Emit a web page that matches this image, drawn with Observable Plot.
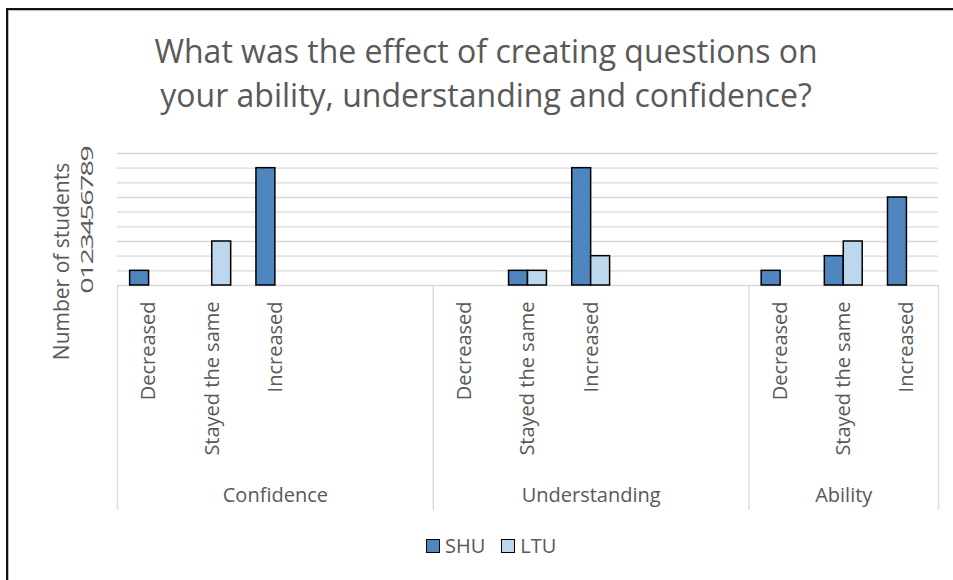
<!DOCTYPE html>
<html>
<head>
<meta charset="utf-8">
<script src="https://cdn.jsdelivr.net/npm/d3@7"></script>
<script src="https://cdn.jsdelivr.net/npm/@observablehq/plot@0.6"></script>
<style>
  body { margin: 0; background: #fff; }
  #chart { position: relative; width: 953px; height: 580px; overflow: hidden; font-family: "Open Sans", sans-serif; color: #595959; background: #fff; }
  #title { position: absolute; left: 0; width: 972px; top: 29px; text-align: center; font-size: 32px; line-height: 44px; }
  #plot { position: absolute; left: 0; top: 130px; }
  #legend { position: absolute; left: 426px; top: 532px; display: flex; align-items: center; font-size: 20px; line-height: 28px; }
  .item { display: flex; align-items: center; margin-right: 16px; }
  .sw { width: 12px; height: 12px; border: 1.5px solid #000; margin-right: 5px; }
  #border { position: absolute; left: 6px; top: 8px; right: -10px; bottom: -10px; border-left: 2px solid #111; border-top: 2px solid #111; box-shadow: inset 1px 1px 0 #bbb; pointer-events: none; }
</style>
</head>
<body>
<div id="chart">
  <div id="title"></div>
  <div id="plot"></div>
  <div id="legend"></div>
  <div id="border"></div>
</div>
<script>
// ---- data ----
const titleLines = ["What was the effect of creating questions on", "your ability, understanding and confidence?"];
const yTitle = "Number of students";
const groups = ["Confidence", "Understanding", "Ability"];
const categoryLabels = [
  ["Decreased", "Stayed the same", "Increased", "", ""],
  ["Decreased", "Stayed the same", "Increased", "", ""],
  ["Decreased", "Stayed the same", "Increased"]
];
const seriesNames = ["SHU", "LTU"];
const seriesColors = ["#4f86c0", "#bdd7ee"];
const shuValues = [1, 0, 8, null, null, 0, 1, 8, null, null, 1, 2, 6];
const ltuValues = [0, 3, 0, null, null, 0, 1, 2, null, null, 0, 3, 0];
const yTicks = [0, 1, 2, 3, 4, 5, 6, 7, 8, 9];

// ---- derived tables ----
const slots = [];
const groupSpans = [];
groups.forEach((g, gi) => {
  const start = slots.length;
  categoryLabels[gi].forEach(label => slots.push({group: g, label, index: slots.length}));
  groupSpans.push({group: g, start, end: slots.length});
});
const groupEdges = [0, ...groupSpans.map(d => d.end)];
const seriesValues = [shuValues, ltuValues];
const bars = [];
slots.forEach((s, i) => {
  seriesValues.forEach((vals, si) => {
    const v = vals[i];
    if (v) bars.push({...s, series: seriesNames[si], seriesIndex: si, value: v});
  });
});
const barWidth = 0.3; // fraction of a category slot

document.getElementById("title").innerHTML = titleLines.join("<br>");

const chart = Plot.plot({
  width: 953,
  height: 390,
  marginTop: 23,
  marginBottom: 235,
  marginLeft: 117,
  marginRight: 15,
  x: {domain: [0, slots.length], axis: null},
  y: {domain: [0, 9], axis: null},
  color: {domain: seriesNames, range: seriesColors},
  style: {fontFamily: "Open Sans, sans-serif", fontSize: "20px", color: "#595959", background: "transparent", overflow: "visible"},
  marks: [
    Plot.ruleY(yTicks, {y: d => d, stroke: "#d9d9d9", strokeWidth: 1.4}),
    Plot.ruleX(groupEdges, {x: d => d, y1: 0, y2: 0, insetBottom: -225, stroke: "#d9d9d9", strokeWidth: 1.4}),
    Plot.rectY(bars, {
      x1: d => d.index + 0.5 + (d.seriesIndex - 1) * barWidth,
      x2: d => d.index + 0.5 + d.seriesIndex * barWidth,
      y1: 0, y2: "value",
      fill: "series", stroke: "#000", strokeWidth: 1.5
    }),
    Plot.text(slots.filter(s => s.label), {
      x: d => d.index + 0.5, y: 0, text: "label",
      rotate: -90, textAnchor: "end", lineAnchor: "middle", dy: 16, fontSize: 20
    }),
    Plot.text(groupSpans, {
      x: d => (d.start + d.end) / 2, y: 0, text: "group", dy: 210, fontSize: 20
    }),
    Plot.text(yTicks, {
      y: d => d, text: d => String(d), frameAnchor: "left", dx: -30,
      rotate: -90, textAnchor: "middle", lineAnchor: "middle", fontSize: 16,
      ariaDescription: "y-ticks"
    }),
    Plot.text([yTitle], {
      text: d => d, frameAnchor: "left", dx: -55, dy: 42, rotate: -90,
      textAnchor: "middle", lineAnchor: "middle", fontSize: 21
    })
  ]
});
// stretch the rotated tick digits along the axis, as in the original
d3.select(chart).selectAll('g[aria-description="y-ticks"] text').each(function() {
  const t = this.getAttribute("transform") || "";
  this.setAttribute("transform", t + " scale(1.8,1)");
});
document.getElementById("plot").appendChild(chart);

const legend = document.getElementById("legend");
seriesNames.forEach((name, i) => {
  const item = document.createElement("div");
  item.className = "item";
  const sw = document.createElement("div");
  sw.className = "sw";
  sw.style.background = seriesColors[i];
  const label = document.createElement("span");
  label.textContent = name;
  item.appendChild(sw);
  item.appendChild(label);
  legend.appendChild(item);
});
</script>
</body>
</html>
